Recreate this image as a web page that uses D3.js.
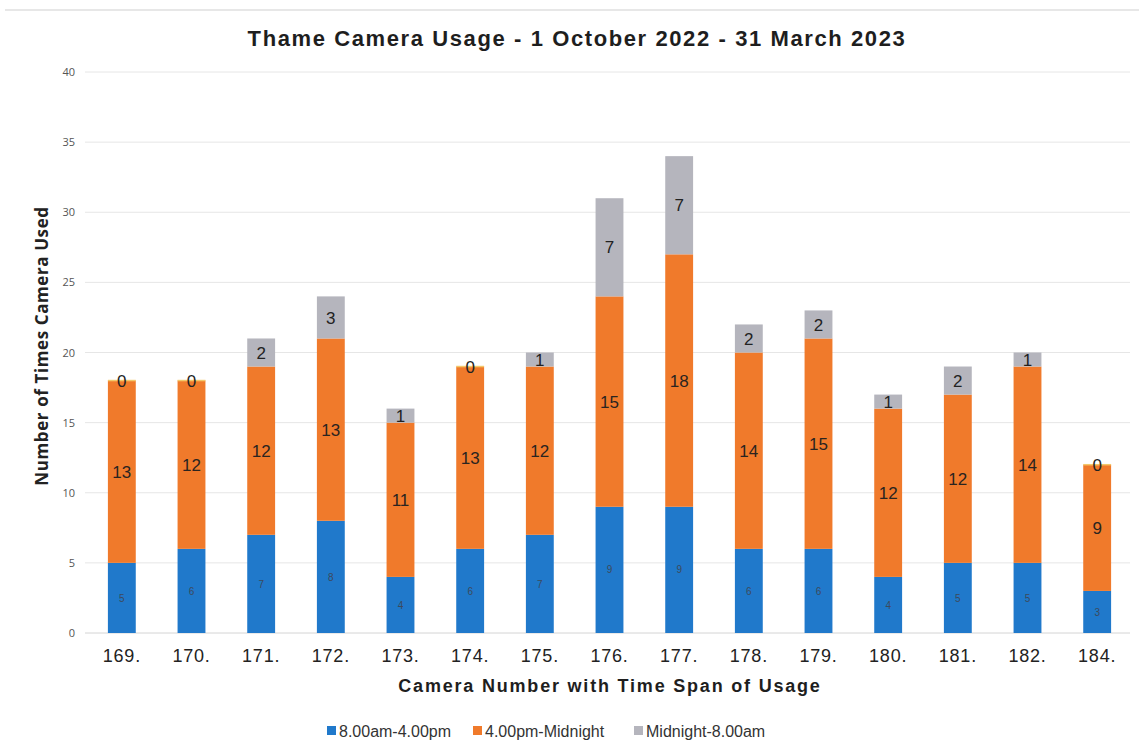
<!DOCTYPE html>
<html>
<head>
<meta charset="utf-8">
<script src="https://cdn.jsdelivr.net/npm/d3@7"></script>
<style>
  html, body { margin: 0; padding: 0; background: #fff; }
  svg { display: block; }
</style>
</head>
<body>
<svg id="chart" width="1139" height="751"></svg>
<script>
// Camera numbers and usage counts per time span
const cameras = ["169.", "170.", "171.", "172.", "173.", "174.", "175.", "176.", "177.", "178.", "179.", "180.", "181.", "182.", "184."];
const daytime = [5, 6, 7, 8, 4, 6, 7, 9, 9, 6, 6, 4, 5, 5, 3];        // 8.00am-4.00pm
const evening = [13, 12, 12, 13, 11, 13, 12, 15, 18, 14, 15, 12, 12, 14, 9]; // 4.00pm-Midnight
const overnight = [0, 0, 2, 3, 1, 0, 1, 7, 7, 2, 2, 1, 2, 1, 0];     // Midnight-8.00am
const seriesNames = ["8.00am-4.00pm", "4.00pm-Midnight", "Midnight-8.00am"];
const yTicks = [0, 5, 10, 15, 20, 25, 30, 35, 40];

const colors = ["#2079cb", "#f07a2b", "#b5b5bd"];
const labelStyle = [
  { size: 10, fill: "#3c4a5c" },
  { size: 17, fill: "#2a2420" },
  { size: 17, fill: "#222222" }
];

const svg = d3.select("#chart");
const margin = { left: 87, right: 7, top: 72, bottom: 118 };
const W = 1139, H = 751;

const x = d3.scaleBand().domain(cameras).range([margin.left, W - margin.right]).paddingInner(0.6).paddingOuter(0.3);
const y = d3.scaleLinear().domain([0, 40]).range([H - margin.bottom, margin.top]);

// top rule
svg.append("line").attr("x1", 5).attr("x2", W).attr("y1", 10).attr("y2", 10)
  .attr("stroke", "#cfcfcf").attr("stroke-width", 1.2);

// gridlines
svg.append("g").selectAll("line").data(yTicks).join("line")
  .attr("x1", 85).attr("x2", 1130)
  .attr("y1", d => y(d)).attr("y2", d => y(d))
  .attr("stroke", d => d === 0 ? "#d4d4d4" : "#e6e6e6").attr("stroke-width", 1);

// y axis tick labels
const yAxis = d3.axisLeft(y).tickValues(yTicks).tickSize(0).tickPadding(0);
const gy = svg.append("g").attr("transform", "translate(75,0)").call(yAxis);
gy.select(".domain").remove();
gy.selectAll("text").attr("font-family", "'Open Sans', 'Liberation Sans', sans-serif")
  .attr("font-size", 11).attr("fill", "#555");

// x axis labels
const xAxis = d3.axisBottom(x).tickSize(0).tickPadding(0);
const gx = svg.append("g").attr("transform", `translate(0,${y(0) + 16})`).call(xAxis);
gx.select(".domain").remove();
gx.selectAll("text").attr("font-family", "'Liberation Sans', Arial, sans-serif")
  .attr("font-size", 18).attr("letter-spacing", 0.8).attr("fill", "#222");

// stacked bars
const rows = cameras.map((c, i) => ({ camera: c, s0: daytime[i], s1: evening[i], s2: overnight[i] }));
const stack = d3.stack().keys(["s0", "s1", "s2"])(rows);

const layers = svg.append("g").selectAll("g").data(stack).join("g")
  .attr("fill", (d, i) => colors[i]);
layers.selectAll("rect").data(d => d).join("rect")
  .attr("x", d => x(d.data.camera))
  .attr("width", x.bandwidth())
  .attr("y", d => y(d[1]))
  .attr("height", d => y(d[0]) - y(d[1]));

// zero-height segments get a faint line at the top
svg.append("g").selectAll("line").data(stack[2].filter(d => d[1] - d[0] === 0)).join("line")
  .attr("x1", d => x(d.data.camera)).attr("x2", d => x(d.data.camera) + x.bandwidth())
  .attr("y1", d => y(d[1])).attr("y2", d => y(d[1]))
  .attr("stroke", "#f3c86a").attr("stroke-width", 1.5);

// segment value labels
stack.forEach((layer, i) => {
  svg.append("g").selectAll("text").data(layer).join("text")
    .attr("x", d => x(d.data.camera) + x.bandwidth() / 2)
    .attr("y", d => y((d[0] + d[1]) / 2))
    .attr("dy", "0.36em")
    .attr("text-anchor", "middle")
    .attr("font-family", "'Liberation Sans', Arial, sans-serif")
    .attr("font-size", labelStyle[i].size)
    .attr("fill", labelStyle[i].fill)
    .text(d => d[1] - d[0]);
});

// titles
svg.append("text").attr("x", 577).attr("y", 46).attr("text-anchor", "middle")
  .attr("font-family", "'Liberation Sans', Arial, sans-serif").attr("font-weight", "bold")
  .attr("font-size", 22).attr("letter-spacing", 1.6).attr("fill", "#1e1e1e")
  .text("Thame Camera Usage - 1 October 2022 - 31 March 2023");

svg.append("text").attr("x", 610).attr("y", 692).attr("text-anchor", "middle")
  .attr("font-family", "'Liberation Sans', Arial, sans-serif").attr("font-weight", "bold")
  .attr("font-size", 18).attr("letter-spacing", 1.8).attr("fill", "#1e1e1e")
  .text("Camera Number with Time Span of Usage");

svg.append("text").attr("transform", "translate(48,346) rotate(-90)").attr("text-anchor", "middle")
  .attr("font-family", "'Open Sans', 'DejaVu Sans', sans-serif").attr("font-weight", "bold")
  .attr("font-size", 17).attr("letter-spacing", 0.6).attr("fill", "#222")
  .text("Number of Times Camera Used");

// legend
const legendX = [327, 473, 634];
const lg = svg.append("g").selectAll("g").data(seriesNames).join("g")
  .attr("transform", (d, i) => `translate(${legendX[i]},731)`);
lg.append("rect").attr("x", 0).attr("y", -5).attr("width", 9).attr("height", 9)
  .attr("fill", (d, i) => colors[i]);
lg.append("text").attr("x", 12).attr("y", 0).attr("dy", "0.36em")
  .attr("font-family", "'Liberation Sans', Arial, sans-serif")
  .attr("font-size", 16).attr("fill", "#333")
  .text(d => d);
</script>
</body>
</html>
